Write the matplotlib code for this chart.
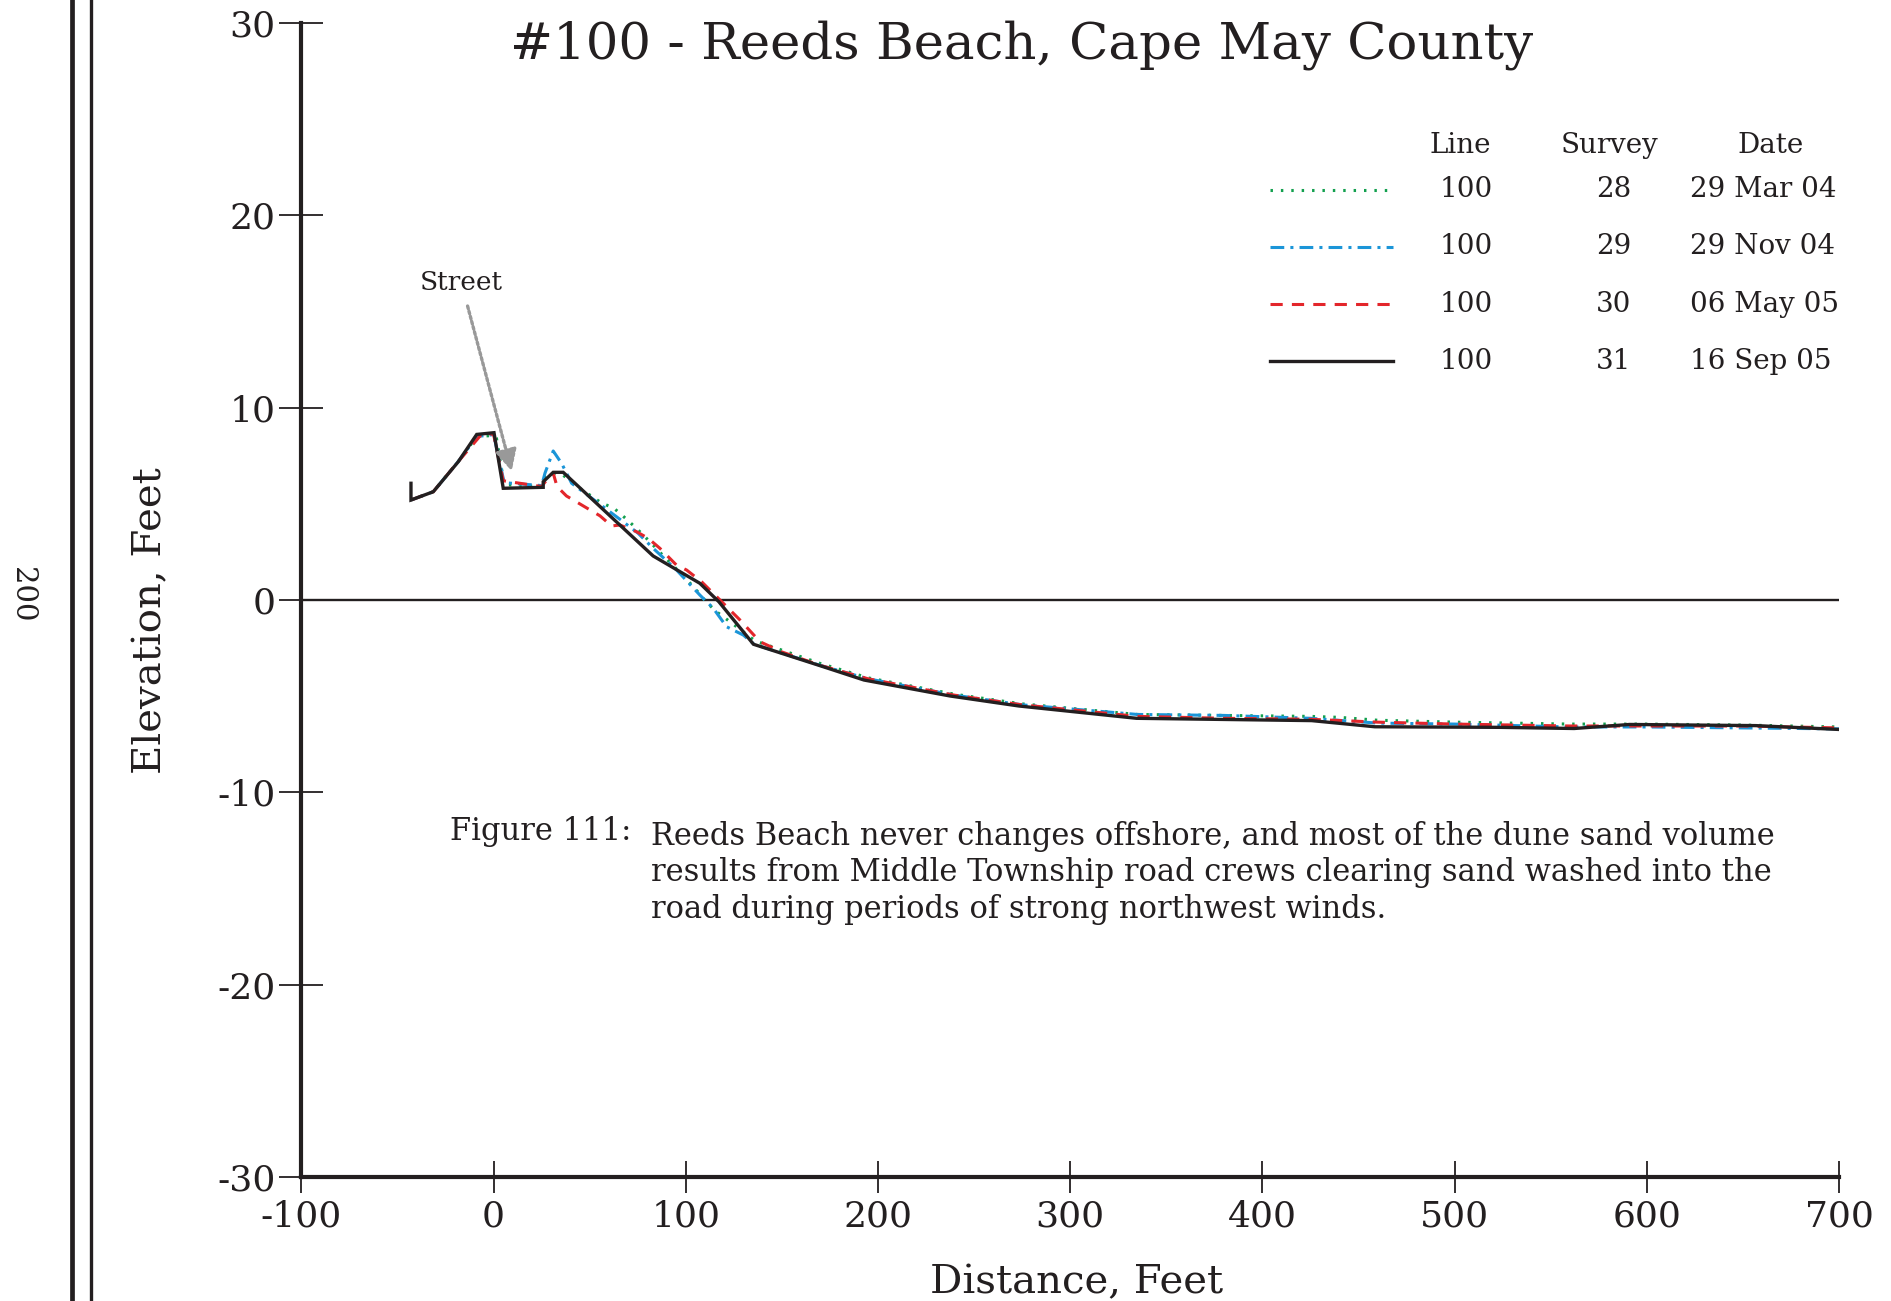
import matplotlib
matplotlib.use("Agg")
import matplotlib.pyplot as plt
from matplotlib.lines import Line2D

# ---------------------------------------------------------
# Data
# ---------------------------------------------------------
# Survey 28 - 29 Mar 04 (green dotted)
x_s28 = [-43, -31.4, -18.4, -8.8, -1, 1.5, 5.5, 25, 27, 31, 36, 45, 55.2, 63.1,
         69.2, 75.2, 81.3, 87.4, 93.1, 99.0, 104.7, 110.5, 116.0, 123.0, 136.0,
         152.4, 170, 195, 240, 275, 335, 380, 425, 440, 460, 500, 560, 600, 650, 700]
y_s28 = [5.2, 5.63, 7.2, 8.5, 8.55, 8.4, 6.0, 5.9, 6.4, 6.6, 6.5, 5.8, 5.11, 4.73,
         4.20, 3.64, 3.03, 2.39, 1.82, 1.21, 0.61, -0.09, -0.61, -1.13, -2.12,
         -2.69, -3.3, -4.05, -4.9, -5.4, -5.95, -6.0, -6.05, -6.1, -6.25, -6.35,
         -6.45, -6.45, -6.5, -6.6]

# Survey 29 - 29 Nov 04 (blue dash-dot)
x_s29 = [-43, -31.4, -18.4, -8.8, 0, 5.5, 25, 26.7, 31.0, 35.4, 40.6, 55, 67.4,
         75.2, 83.0, 95.2, 107.3, 114.3, 121.2, 129.9, 135.5, 170, 195, 240, 275,
         335, 380, 425, 460, 500, 560, 600, 650, 700]
y_s29 = [5.2, 5.63, 7.2, 8.5, 8.6, 6.1, 5.95, 6.59, 7.75, 7.1, 6.07, 5.0, 4.07,
         3.47, 2.69, 1.56, 0.26, -0.43, -1.39, -1.82, -2.3, -3.4, -4.1, -4.95,
         -5.45, -5.95, -6.0, -6.15, -6.4, -6.45, -6.6, -6.6, -6.65, -6.7]

# Survey 30 - 06 May 05 (red dashed)
x_s30 = [-43, -31.4, -18.4, -5.4, 0, 5.0, 25, 28, 31, 33, 37.9, 55.3, 61.4, 65.7,
         74.4, 80.4, 86.5, 95.1, 100.4, 108.2, 119.5, 128.2, 138.6, 150, 170, 195,
         240, 275, 335, 380, 425, 460, 500, 560, 600, 650, 700]
y_s30 = [5.2, 5.63, 7.2, 8.72, 8.6, 6.2, 5.9, 6.3, 6.6, 5.9, 5.41, 4.38, 3.85, 3.9,
         3.55, 3.21, 2.69, 1.82, 1.56, 0.95, -0.17, -1.04, -2.17, -2.7, -3.4, -4.1,
         -4.95, -5.45, -6.05, -6.15, -6.2, -6.35, -6.45, -6.55, -6.55, -6.55, -6.65]

# Survey 31 - 16 Sep 05 (black solid)
x_s31 = [-43, -43, -31.4, -18.4, -8.8, 0.2, 5.0, 25.8, 25.8, 31.0, 36.2, 83.0,
         107.3, 117.2, 135.2, 168.8, 192.7, 237.5, 273.3, 334.5, 425.6, 458.5,
         523.6, 562.2, 591.1, 656.7, 700]
y_s31 = [6.07, 5.2, 5.63, 7.19, 8.61, 8.70, 5.81, 5.86, 6.15, 6.64, 6.64, 2.29,
         0.87, -0.09, -2.30, -3.38, -4.16, -4.99, -5.51, -6.15, -6.27, -6.59,
         -6.62, -6.68, -6.47, -6.53, -6.73]

line_ids = ["100", "100", "100", "100"]
survey_ids = ["28", "29", "30", "31"]
survey_dates = ["29 Mar 04", "29 Nov 04", "06 May 05", "16 Sep 05"]

x_ticks = [-100, 0, 100, 200, 300, 400, 500, 600, 700]
y_ticks = [-30, -20, -10, 0, 10, 20, 30]

caption_lines = [
    "Reeds Beach never changes offshore, and most of the dune sand volume",
    "results from Middle Township road crews clearing sand washed into the",
    "road during periods of strong northwest winds.",
]

# ---------------------------------------------------------
# Styles
# ---------------------------------------------------------
INK = "#231f20"
FONT = "DejaVu Serif"
styles = [
    dict(color="#12a04e", lw=2.2, ls=(0, (0.8, 2.6))),
    dict(color="#1b95d8", lw=2.2, ls=(0, (4.5, 2.0, 1.0, 2.0))),
    dict(color="#e3262b", lw=2.2, ls=(0, (4.0, 3.0))),
    dict(color=INK, lw=2.4, ls="-"),
]
series = [(x_s28, y_s28), (x_s29, y_s29), (x_s30, y_s30), (x_s31, y_s31)]

plt.rcParams["font.family"] = [FONT, "DejaVu Sans"]

fig = plt.figure(figsize=(18.91, 13.01), dpi=100)
ax = fig.add_axes([0.1594, 0.0953, 0.8131, 0.8870])

for (xs, ys), st in zip(series, styles):
    ax.plot(xs, ys, color=st["color"], lw=st["lw"], linestyle=st["ls"],
            solid_joinstyle="miter", zorder=3)

ax.axhline(0, color=INK, lw=1.7, zorder=2)

ax.set_xlim(-100, 700)
ax.set_ylim(-30, 30)
ax.set_xticks(x_ticks)
ax.set_yticks(y_ticks)
ax.set_xticklabels([str(v) for v in x_ticks], fontsize=26, color=INK)
ax.set_yticklabels([str(v) for v in y_ticks], fontsize=26, color=INK)
ax.tick_params(axis="y", direction="inout", length=31, width=1.3, pad=3, colors=INK)
ax.tick_params(axis="x", direction="inout", length=23, width=1.3, pad=5, colors=INK)

for side in ["top", "right"]:
    ax.spines[side].set_visible(False)
for side in ["left", "bottom"]:
    ax.spines[side].set_linewidth(3.0)
    ax.spines[side].set_color(INK)

# Street annotation
ax.annotate("Street", xy=(9.4, 6.7), xytext=(-16.8, 16.5),
            fontsize=19, color=INK, ha="center", va="center",
            arrowprops=dict(arrowstyle="-|>", color="#999999", lw=2.4,
                            linestyle=(0, (0.8, 0.8)), mutation_scale=32,
                            shrinkA=6, shrinkB=0))

# Titles and axis labels
fig.text(0.540, 0.9552, "#100 - Reeds Beach, Cape May County",
         fontsize=37, color=INK, ha="center", va="baseline")
fig.text(0.0799, 0.5227, "Elevation, Feet", fontsize=29, color=INK,
         rotation=90, ha="center", va="center")
fig.text(0.5695, 0.006, "Distance, Feet", fontsize=29, color=INK,
         ha="center", va="baseline")

# Legend table
row_y = [0.8540, 0.8102, 0.7660, 0.7225]
head_y = 0.8885
fig.text(0.7721, head_y, "Line", fontsize=20, color=INK, ha="center", va="center")
fig.text(0.8509, head_y, "Survey", fontsize=20, color=INK, ha="center", va="center")
fig.text(0.9365, head_y, "Date", fontsize=20, color=INK, ha="center", va="center")
for yy, st, ln, sv, dt in zip(row_y, styles, line_ids, survey_ids, survey_dates):
    fig.add_artist(Line2D([0.6716, 0.7366], [yy, yy], color=st["color"],
                          lw=st["lw"], linestyle=st["ls"], transform=fig.transFigure))
    fig.text(0.7752, yy, ln, fontsize=20, color=INK, ha="center", va="center")
    fig.text(0.8535, yy, sv, fontsize=20, color=INK, ha="center", va="center")
    fig.text(0.8937, yy, dt, fontsize=20, color=INK, ha="left", va="center")

# Caption
fig.text(0.238, 0.3605, "Figure 111:", fontsize=22, color=INK, ha="left", va="center")
for i, line in enumerate(caption_lines):
    fig.text(0.3443, 0.3568 - i * 0.0278, line, fontsize=22, color=INK,
             ha="left", va="center")

# Page border lines and page number
fig.add_artist(Line2D([0.0381, 0.0381], [0, 1], color=INK, lw=3.4,
                      transform=fig.transFigure))
fig.add_artist(Line2D([0.0481, 0.0481], [0, 1], color=INK, lw=2.4,
                      transform=fig.transFigure))
fig.text(0.0114, 0.5427, "200", fontsize=21, color=INK, rotation=-90,
         ha="center", va="center")

fig.savefig("out.png", dpi=100)
